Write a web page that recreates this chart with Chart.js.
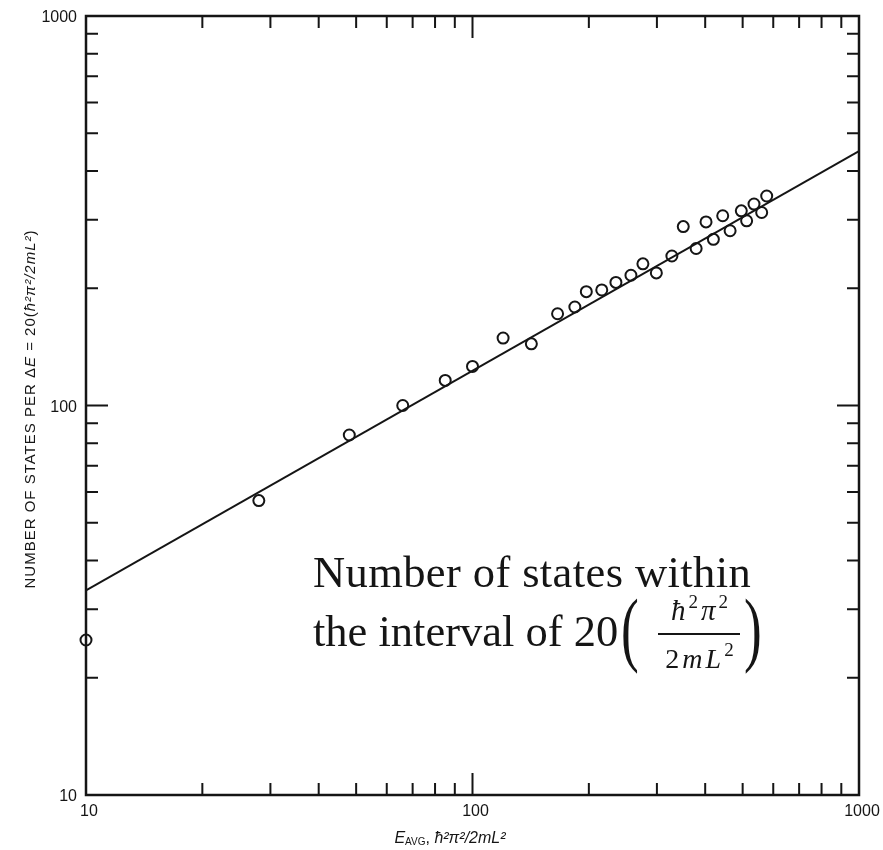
<!DOCTYPE html>
<html>
<head>
<meta charset="utf-8">
<title>Number of states per energy interval</title>
<script src="https://cdn.jsdelivr.net/npm/chart.js@4.4.1/dist/chart.umd.min.js"></script>
<style>
  html, body { margin: 0; padding: 0; background: #fff; }
  #wrap { width: 883px; height: 850px; position: relative; }
</style>
</head>
<body>
<div id="wrap"><canvas id="statesChart"></canvas></div>
<script>
// average energy of each bin, in units of hbar^2 pi^2 / 2mL^2
const energies = [10, 28, 48, 66, 85, 100, 120, 142, 166, 184, 197, 216, 235, 257,
  276, 299, 328, 351, 379, 402, 420, 444, 464, 496, 512, 535, 560, 577];
// number of states counted in each bin
const stateCounts = [25, 57, 84, 100, 116, 126, 149, 144, 172, 179, 196, 198, 207, 216,
  231, 219, 242, 288, 253, 296, 267, 307, 281, 316, 298, 329, 313, 345];
// straight-line fit drawn through the points (end points)
const fitX = [10, 1000];
const fitY = [33.5, 450];
// labelled decades and the minor steps inside each decade
const decadeTicks = [10, 100, 1000];
const minorSteps = [2, 3, 4, 5, 6, 7, 8, 9];

const INK = '#151515';
const SANS = '"Liberation Sans", Arial, sans-serif';
const SERIF = '"Liberation Serif", "Times New Roman", serif';

// draws a row of differently styled pieces of text one after the other
function drawRuns(ctx, runs, x, y, align) {
  let total = 0;
  runs.forEach(r => { ctx.font = r[1]; total += ctx.measureText(r[0]).width; });
  let cx = align === 'center' ? x - total / 2 : x;
  runs.forEach(r => {
    ctx.font = r[1];
    ctx.fillText(r[0], cx, y + (r[2] || 0));
    cx += ctx.measureText(r[0]).width;
  });
}

// frame, inward ticks, tick labels, axis titles and the note
const frameAndText = {
  id: 'frameAndText',
  afterDraw(chart) {
    const ctx = chart.ctx;
    const { left, right, top, bottom } = chart.chartArea;
    const xs = chart.scales.x, ys = chart.scales.y;
    ctx.save();
    ctx.strokeStyle = INK;
    ctx.fillStyle = INK;

    // ticks on all four sides
    ctx.lineWidth = 2;
    ctx.beginPath();
    [10, 100].forEach(d => {
      [1].concat(minorSteps).forEach(m => {
        const v = d * m;
        if (v === 10) return;
        const len = m === 1 ? 22 : 12;
        const px = xs.getPixelForValue(v);
        const py = ys.getPixelForValue(v);
        ctx.moveTo(px, bottom); ctx.lineTo(px, bottom - len);
        ctx.moveTo(px, top); ctx.lineTo(px, top + len);
        ctx.moveTo(left, py); ctx.lineTo(left + len, py);
        ctx.moveTo(right, py); ctx.lineTo(right - len, py);
      });
    });
    ctx.stroke();

    // plot frame
    ctx.lineWidth = 2.5;
    ctx.strokeRect(left, top, right - left, bottom - top);

    // tick labels
    ctx.font = '16px ' + SANS;
    ctx.textBaseline = 'middle';
    ctx.textAlign = 'right';
    decadeTicks.forEach(v => ctx.fillText(String(v), left - 9, ys.getPixelForValue(v) + 2));
    ctx.textAlign = 'center';
    decadeTicks.forEach(v => ctx.fillText(String(v), xs.getPixelForValue(v) + 3, bottom + 17));

    // x axis title
    ctx.textAlign = 'left';
    ctx.textBaseline = 'alphabetic';
    drawRuns(ctx, [
      ['E', 'italic 16px ' + SANS],
      ['AVG', '10px ' + SANS, 2],
      [', ', '16px ' + SANS],
      ['ħ²π²/2mL²', 'italic 16px ' + SANS]
    ], 450, 843, 'center');

    // y axis title, rotated
    ctx.save();
    ctx.translate(30, 409);
    ctx.rotate(-Math.PI / 2);
    ctx.letterSpacing = '1px';
    drawRuns(ctx, [
      ['NUMBER OF STATES PER Δ', '15px ' + SANS],
      ['E', 'italic 15px ' + SANS],
      [' = 20(', '15px ' + SANS],
      ['ħ²π²/2mL²', 'italic 15px ' + SANS],
      [')', '15px ' + SANS]
    ], 0, 5, 'center');
    ctx.restore();

    // note in the lower right of the plot
    ctx.font = '44.5px ' + SERIF;
    ctx.save();
    ctx.letterSpacing = '0.4px';
    ctx.fillText('Number of states within', 313, 587);
    ctx.restore();
    ctx.fillText('the interval of 20', 313, 646);

    ctx.save();
    ctx.letterSpacing = '3px';
    drawRuns(ctx, [
      ['ħ', 'italic 29px ' + SERIF],
      ['2', '19px ' + SERIF, -12],
      ['π', 'italic 29px ' + SERIF],
      ['2', '19px ' + SERIF, -12]
    ], 701, 620, 'center');
    drawRuns(ctx, [
      ['2', '28px ' + SERIF],
      ['m', 'italic 28px ' + SERIF],
      ['L', 'italic 28px ' + SERIF],
      ['2', '19px ' + SERIF, -12]
    ], 701, 668, 'center');
    ctx.restore();

    ctx.lineWidth = 2;
    ctx.beginPath();
    ctx.moveTo(658, 634); ctx.lineTo(740, 634);
    ctx.stroke();

    ctx.font = '82px ' + SERIF;
    ctx.save();
    ctx.translate(621, 656); ctx.scale(0.65, 1);
    ctx.fillText('(', 0, 0);
    ctx.restore();
    ctx.save();
    ctx.translate(744, 656); ctx.scale(0.65, 1);
    ctx.fillText(')', 0, 0);
    ctx.restore();

    ctx.restore();
  }
};

const points = energies.map((e, i) => ({ x: e, y: stateCounts[i] }));
const fitLine = fitX.map((e, i) => ({ x: e, y: fitY[i] }));

new Chart(document.getElementById('statesChart'), {
  type: 'scatter',
  data: {
    datasets: [
      {
        label: 'counted states',
        data: points,
        pointStyle: 'circle',
        pointRadius: 5.5,
        pointBorderWidth: 2,
        pointBorderColor: INK,
        pointBackgroundColor: 'rgba(255,255,255,0)',
        clip: false
      },
      {
        label: 'fit',
        data: fitLine,
        showLine: true,
        pointRadius: 0,
        borderColor: INK,
        borderWidth: 2
      }
    ]
  },
  options: {
    responsive: true,
    maintainAspectRatio: false,
    animation: false,
    layout: { padding: { left: 86, right: 24, top: 16, bottom: 55 } },
    plugins: {
      legend: { display: false },
      tooltip: { enabled: false }
    },
    scales: {
      x: { type: 'logarithmic', min: 10, max: 1000, display: false },
      y: { type: 'logarithmic', min: 10, max: 1000, display: false }
    }
  },
  plugins: [frameAndText]
});
</script>
</body>
</html>
